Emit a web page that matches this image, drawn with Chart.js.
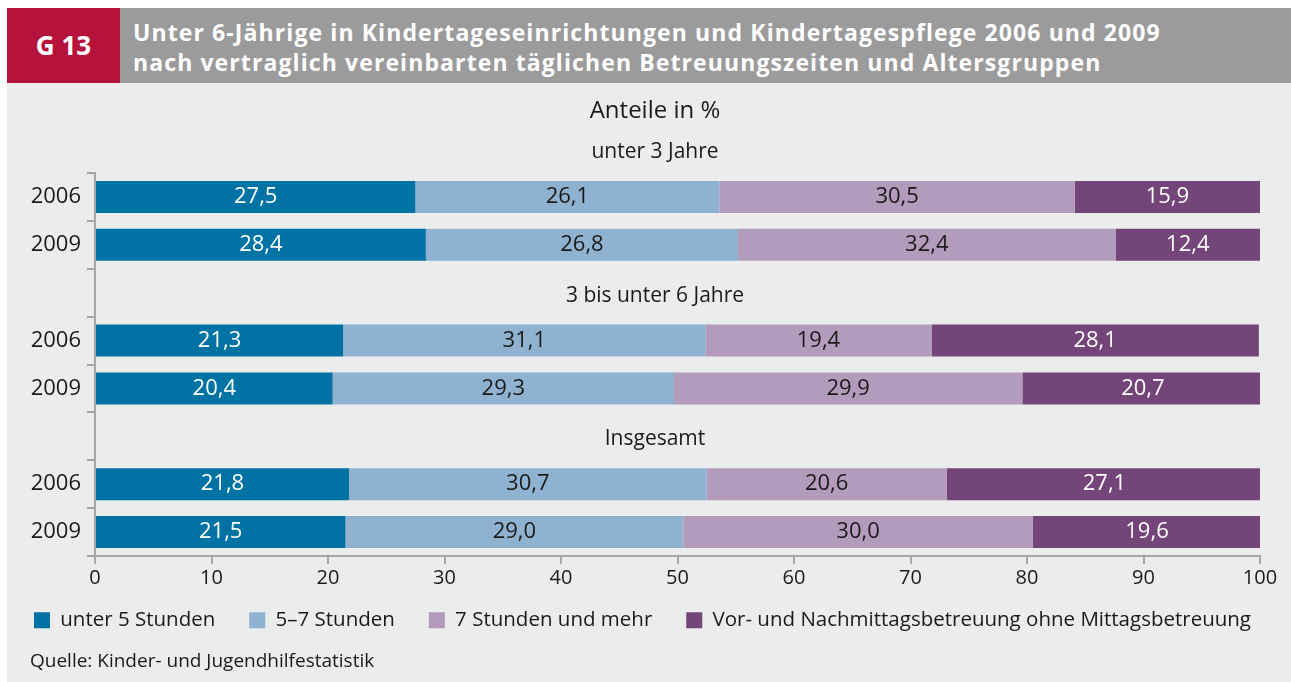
<!DOCTYPE html>
<html lang="de">
<head>
<meta charset="utf-8">
<title>G 13</title>
<script src="https://cdn.jsdelivr.net/npm/chart.js@4.4.1/dist/chart.umd.min.js"></script>
<style>
  html, body { margin: 0; padding: 0; background: #ffffff; }
  body { width: 1291px; height: 682px; position: relative; overflow: hidden; font-family: "Open Sans", "Noto Sans", sans-serif; }
  #badge { position: absolute; left: 7px; top: 8px; width: 113px; height: 75px; background: #b5133c; color: #fff;
           font-weight: bold; font-size: 26px; line-height: 75px; text-align: center; }
  #title { position: absolute; left: 120px; top: 8px; right: 0; height: 75px; background: #9b9b9c; color: #fff;
           font-weight: bold; font-size: 23px; letter-spacing: 1.1px; line-height: 30px; padding: 9px 0 0 13px; box-sizing: border-box; white-space: nowrap; }
  #panel { position: absolute; left: 7px; top: 83px; right: 0; bottom: 0; background: #ebecec; }
  #chart { position: absolute; left: 0; top: 83px; }
</style>
</head>
<body>
<div id="badge">G 13</div>
<div id="title">Unter 6-Jährige in Kindertageseinrichtungen und Kindertagespflege 2006 und 2009<br>nach vertraglich vereinbarten täglichen Betreuungszeiten und Altersgruppen</div>
<div id="panel"></div>
<canvas id="chart" width="1291" height="599"></canvas>
<script>
// rows on the y axis: blank rows hold the group headings
const rowLabels = ['2006', '2009', '', '2006', '2009', '', '2006', '2009'];
const groupNames = ['unter 3 Jahre', '3 bis unter 6 Jahre', 'Insgesamt'];
const seriesNames = ['unter 5 Stunden', '5–7 Stunden', '7 Stunden und mehr', 'Vor- und Nachmittagsbetreuung ohne Mittagsbetreuung'];
const seriesColors = ['#0072a3', '#8fb2d0', '#b39bbb', '#744578'];
const labelColors = ['#ffffff', '#1a1a1a', '#1a1a1a', '#ffffff'];

const under5 = [27.5, 28.4, null, 21.3, 20.4, null, 21.8, 21.5];
const fiveToSeven = [26.1, 26.8, null, 31.1, 29.3, null, 30.7, 29.0];
const sevenPlus = [30.5, 32.4, null, 19.4, 29.9, null, 20.6, 30.0];
const morningAfternoon = [15.9, 12.4, null, 28.1, 20.7, null, 27.1, 19.6];

const xTicks = [0, 10, 20, 30, 40, 50, 60, 70, 80, 90, 100];
const unitText = 'Anteile in %';
const sourceText = 'Quelle: Kinder- und Jugendhilfestatistik';

const FONT = '"Open Sans", "Noto Sans", sans-serif';
const axisGray = '#a6a6a6';
const centerX = 655;

// value labels inside the bars
const barLabels = {
  id: 'barLabels',
  afterDatasetsDraw(chart) {
    const ctx = chart.ctx;
    ctx.save();
    ctx.font = '22px ' + FONT;
    ctx.textAlign = 'center';
    ctx.textBaseline = 'middle';
    chart.data.datasets.forEach((ds, i) => {
      const meta = chart.getDatasetMeta(i);
      meta.data.forEach((bar, j) => {
        const v = ds.data[j];
        if (v === null) return;
        ctx.fillStyle = labelColors[i];
        ctx.fillText(v.toFixed(1).replace('.', ','), (bar.x + bar.base) / 2, bar.y);
      });
    });
    ctx.restore();
  }
};

// unit line, group headings and source note
const extraText = {
  id: 'extraText',
  afterDraw(chart) {
    const ctx = chart.ctx;
    const y = chart.scales.y;
    const step = y.getPixelForValue(1) - y.getPixelForValue(0);
    ctx.save();
    ctx.fillStyle = '#1a1a1a';
    ctx.textBaseline = 'middle';
    ctx.textAlign = 'center';
    ctx.font = '24px ' + FONT;
    ctx.fillText(unitText, centerX, 28);
    ctx.font = '21px ' + FONT;
    const rows = [-1, 2, 5];
    rows.forEach((r, i) => {
      const py = r < 0 ? y.getPixelForValue(0) - step : y.getPixelForValue(r);
      ctx.fillText(groupNames[i], centerX, py + 3);
    });
    ctx.textAlign = 'left';
    ctx.font = '19px ' + FONT;
    ctx.fillText(sourceText, 30, 579);
    ctx.restore();
  }
};

const datasets = [under5, fiveToSeven, sevenPlus, morningAfternoon].map((values, i) => ({
  label: seriesNames[i],
  data: values,
  backgroundColor: seriesColors[i],
  borderWidth: 0,
  barPercentage: 0.67,
  categoryPercentage: 1
}));

new Chart(document.getElementById('chart'), {
  type: 'bar',
  data: { labels: rowLabels, datasets: datasets },
  plugins: [barLabels, extraText],
  options: {
    indexAxis: 'y',
    responsive: false,
    animation: false,
    layout: { padding: { top: 90, right: 0, left: 0, bottom: 41.5 } },
    scales: {
      x: {
        stacked: true,
        min: 0,
        max: 100,
        afterBuildTicks: (scale) => { scale.ticks = xTicks.map(v => ({ value: v })); },
        afterFit: (scale) => { scale.height = 20; },
        border: { color: axisGray, width: 2 },
        grid: { drawOnChartArea: false, drawTicks: true, tickLength: 8, color: axisGray, lineWidth: 2 },
        // mirrored with negative padding so the labels sit below the short axis box
        ticks: { color: '#1a1a1a', font: { family: FONT, size: 20 }, mirror: true, padding: -34 }
      },
      y: {
        stacked: true,
        offset: true,
        afterFit: (scale) => { scale.width = 95; },
        border: { color: axisGray, width: 2 },
        grid: { offset: true, drawOnChartArea: false, drawTicks: true, tickLength: 8, color: axisGray, lineWidth: 2 },
        ticks: { color: '#1a1a1a', font: { family: FONT, size: 22 }, padding: 6 }
      },
      // empty right axis keeps the plot off the right edge but leaves the legend full width
      yRight: {
        type: 'category',
        position: 'right',
        afterFit: (scale) => { scale.width = 31; },
        border: { display: false },
        grid: { display: false },
        ticks: { display: false }
      }
    },
    plugins: {
      legend: {
        position: 'bottom',
        align: 'start',
        labels: {
          boxWidth: 16,
          boxHeight: 16,
          padding: 34,
          color: '#1a1a1a',
          font: { family: FONT, size: 20.5 }
        }
      },
      tooltip: { enabled: false }
    }
  }
});
</script>
</body>
</html>
